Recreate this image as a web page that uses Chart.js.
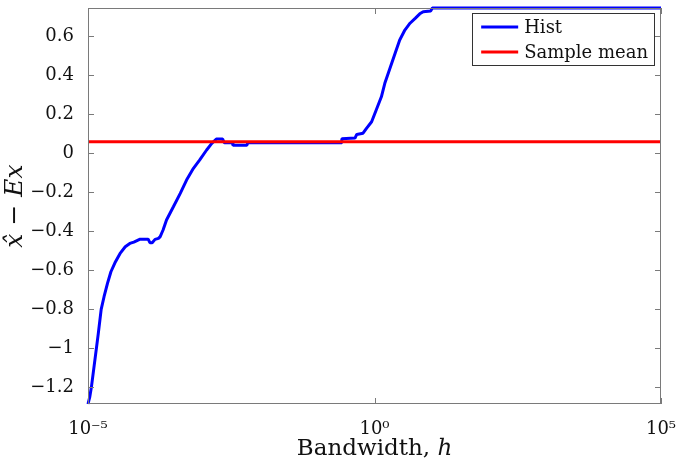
<!DOCTYPE html>
<html>
<head>
<meta charset="utf-8">
<script src="https://cdn.jsdelivr.net/npm/chart.js@4.4.1/dist/chart.umd.min.js"></script>
<style>
  html, body { margin: 0; padding: 0; background: #fff; }
  #wrap { width: 677px; height: 464px; }
</style>
</head>
<body>
<div id="wrap"><canvas id="chart" width="677" height="464"></canvas></div>
<script>
// bandwidth as log10(h)
const histLogH = [-5.00, -4.97, -4.94, -4.88, -4.82, -4.77, -4.72, -4.66, -4.60, -4.53,
  -4.44, -4.35, -4.27, -4.20, -4.09, -3.95, -3.92, -3.88, -3.83, -3.77,
  -3.74, -3.69, -3.63, -3.51, -3.39, -3.28, -3.16, -3.05, -2.93, -2.84,
  -2.76, -2.65, -2.62, -2.48, -2.47, -2.23, -2.21, -0.58, -0.57, -0.34,
  -0.31, -0.20, -0.14, -0.05, 0.03, 0.12, 0.18, 0.27, 0.36, 0.44,
  0.53, 0.62, 0.71, 0.79, 0.85, 0.98, 1.01, 5.00];
const histValues = [-1.285, -1.25, -1.197, -1.06, -0.923, -0.80, -0.735, -0.667, -0.607, -0.561,
  -0.513, -0.479, -0.462, -0.455, -0.44, -0.44, -0.458, -0.458, -0.441, -0.436,
  -0.427, -0.393, -0.342, -0.274, -0.205, -0.137, -0.077, -0.034, 0.017, 0.051,
  0.073, 0.073, 0.054, 0.054, 0.041, 0.041, 0.054, 0.054, 0.075, 0.078,
  0.097, 0.103, 0.128, 0.162, 0.222, 0.29, 0.359, 0.436, 0.513, 0.581,
  0.632, 0.667, 0.692, 0.715, 0.726, 0.730, 0.745, 0.745];
const meanLogH = [-5, 5];
const meanValues = [0.06, 0.06];

const xTickExp = [-5, 0, 5];
const xTickLabels = ["10\u207B\u2075", "10\u2070", "10\u2075"];
const yTicks = [-1.2, -1, -0.8, -0.6, -0.4, -0.2, 0, 0.2, 0.4, 0.6];
const yTickLabels = ["\u22121.2", "\u22121", "\u22120.8", "\u22120.6", "\u22120.4", "\u22120.2", "0", "0.2", "0.4", "0.6"];

const serif = "'DejaVu Serif', serif";
const axisGrey = "#7a7a7a";

const toPoints = (lh, v) => lh.map((e, i) => ({ x: Math.pow(10, e), y: v[i] }));

// inward ticks + box, like matlab
const boxTicks = {
  id: "boxTicks",
  afterDraw(chart) {
    const { ctx, chartArea: a, scales } = chart;
    ctx.save();
    ctx.strokeStyle = axisGrey;
    ctx.lineWidth = 1;
    ctx.strokeRect(a.left + 0.5, a.top + 0.5, a.right - a.left - 1, a.bottom - a.top - 1);
    const len = 6;
    ctx.beginPath();
    yTicks.forEach(v => {
      const y = Math.round(scales.y.getPixelForValue(v)) + 0.5;
      ctx.moveTo(a.left, y); ctx.lineTo(a.left + len, y);
      ctx.moveTo(a.right, y); ctx.lineTo(a.right - len, y);
    });
    xTickExp.forEach(e => {
      const x = Math.round(scales.x.getPixelForValue(Math.pow(10, e))) + 0.5;
      ctx.moveTo(x, a.bottom); ctx.lineTo(x, a.bottom - len);
      ctx.moveTo(x, a.top); ctx.lineTo(x, a.top + len);
    });
    ctx.stroke();
    ctx.restore();
  }
};

// boxed legend in the top right corner
const boxLegend = {
  id: "boxLegend",
  afterDraw(chart) {
    const { ctx, chartArea: a } = chart;
    const sets = chart.data.datasets;
    ctx.save();
    ctx.font = "18px " + serif;
    const textW = Math.max(...sets.map(d => ctx.measureText(d.label).width));
    const lineLen = 37, gap = 6, padL = 9, padR = 6, rowH = 25;
    const w = padL + lineLen + gap + textW + padR;
    const h = rowH * sets.length + 2;
    const x0 = a.right - 7 - w, y0 = a.top + 5;
    ctx.fillStyle = "#fff";
    ctx.fillRect(x0, y0, w, h);
    ctx.strokeStyle = "#333";
    ctx.lineWidth = 1;
    ctx.strokeRect(Math.round(x0) + 0.5, Math.round(y0) + 0.5, Math.round(w), Math.round(h));
    sets.forEach((d, i) => {
      const cy = y0 + 14 + i * rowH;
      ctx.strokeStyle = d.borderColor;
      ctx.lineWidth = 3;
      ctx.beginPath();
      ctx.moveTo(x0 + padL, cy);
      ctx.lineTo(x0 + padL + lineLen, cy);
      ctx.stroke();
      ctx.fillStyle = "#111";
      ctx.textBaseline = "middle";
      ctx.fillText(d.label, x0 + padL + lineLen + gap, cy + 1);
    });
    ctx.restore();
  }
};

new Chart(document.getElementById("chart"), {
  type: "line",
  data: {
    datasets: [{
      label: "Hist",
      data: toPoints(histLogH, histValues),
      borderColor: "#0000ff",
      borderWidth: 3,
      borderJoinStyle: "bevel",
      pointRadius: 0,
      tension: 0,
      order: 1,
      clip: 4
    }, {
      label: "Sample mean",
      data: toPoints(meanLogH, meanValues),
      borderColor: "#ff0000",
      borderWidth: 3,
      pointRadius: 0,
      order: 0,
      clip: 4
    }]
  },
  options: {
    responsive: false,
    animation: false,
    layout: { padding: { top: 8, right: 16, left: 0, bottom: 0 } },
    plugins: {
      legend: { display: false },
      tooltip: { enabled: false }
    },
    scales: {
      x: {
        type: "logarithmic",
        min: 1e-5,
        max: 1e5,
        afterBuildTicks: s => { s.ticks = xTickExp.map(e => ({ value: Math.pow(10, e) })); },
        afterFit: s => { s.height = 60; s.paddingLeft = 0; s.paddingRight = 0; },
        grid: { display: false },
        border: { display: false },
        ticks: {
          autoSkip: false,
          maxRotation: 0,
          padding: 7,
          color: "#111",
          font: { family: serif, size: 18 },
          callback: (v, i) => xTickLabels[i]
        },
        title: {
          display: true,
          text: "Bandwidth, \u210E",
          color: "#111",
          font: { family: serif, size: 23 },
          padding: { top: 0, bottom: 1 }
        }
      },
      y: {
        min: -1.285,
        max: 0.745,
        afterBuildTicks: s => { s.ticks = yTicks.map(v => ({ value: v })); },
        afterFit: s => { s.width = 88; s.paddingTop = 0; s.paddingBottom = 0; },
        grid: { display: false },
        border: { display: false },
        ticks: {
          autoSkip: false,
          padding: 6,
          color: "#111",
          font: { family: serif, size: 18 },
          callback: (v, i) => yTickLabels[i]
        },
        title: {
          display: true,
          text: "x\u0302 \u2212 Ex",
          color: "#111",
          font: { family: serif, size: 25, style: "italic" },
          padding: { top: 0, bottom: 0 }
        }
      }
    }
  },
  plugins: [boxTicks, boxLegend]
});
</script>
</body>
</html>
